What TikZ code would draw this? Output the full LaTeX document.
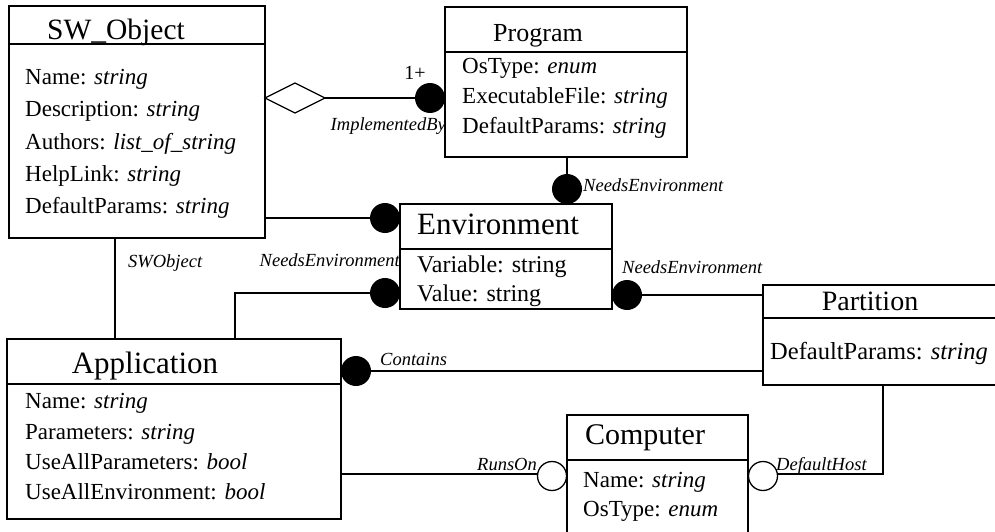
\documentclass[tikz,border=0pt]{standalone}
\usepackage{fontspec}
\setmainfont{Liberation Serif}
\usetikzlibrary{shapes.geometric}
\begin{document}
\begin{tikzpicture}[x=1pt,y=-1pt,
 umlbox/.style={draw, line width=1.4pt, rectangle, inner sep=0pt, outer sep=0pt, anchor=north west},
 ttl/.style={font=\fontsize{29}{30}\selectfont, anchor=base, inner sep=0pt},
 attr/.style={font=\fontsize{23}{24}\selectfont, anchor=base west, inner sep=0pt},
 lbl/.style={font=\fontsize{18.5}{19}\selectfont\itshape, inner sep=0pt},
 conn/.style={line width=1.2pt},
 hdr/.style={line width=1.4pt},
 fdot/.style={circle, fill=black, minimum size=30pt, inner sep=0pt, outer sep=0pt},
 odot/.style={circle, draw, fill=white, line width=1.3pt, minimum size=29pt, inner sep=0pt, outer sep=0pt},
 agg/.style={diamond, draw, line width=1.3pt, fill=white, minimum width=60pt, minimum height=30pt, inner sep=0pt, outer sep=0pt},
]
\useasboundingbox (0,0) rectangle (995,532);
\clip (0,0) rectangle (995,532);

% ---------- boxes ----------
\node[umlbox, minimum width=256pt, minimum height=232pt] (sw) at (9,6) {};
\node[umlbox, minimum width=242pt, minimum height=150pt] (prog) at (445,7) {};
\node[umlbox, minimum width=212pt, minimum height=105pt] (env) at (400,204) {};
\node[umlbox, minimum width=260pt, minimum height=100pt] (part) at (763,285) {};
\node[umlbox, minimum width=334pt, minimum height=180pt] (app) at (7,339) {};
\node[umlbox, minimum width=181pt, minimum height=140pt] (comp) at (567,415) {};

% header separators
\draw[hdr] (sw.west |- 0,44) -- (sw.east |- 0,44);
\draw[hdr] (prog.west |- 0,52) -- (prog.east |- 0,52);
\draw[hdr] (env.west |- 0,249) -- (env.east |- 0,249);
\draw[hdr] (part.west |- 0,318) -- (part.east |- 0,318);
\draw[hdr] (app.west |- 0,384) -- (app.east |- 0,384);
\draw[hdr] (comp.west |- 0,460) -- (comp.east |- 0,460);

% ---------- titles ----------
\node[ttl, font=\fontsize{29.5}{30}\selectfont] (swt) at (116,40) {SW\_Object};
\node[ttl, font=\fontsize{26}{27}\selectfont] (progt) at (538,42) {Program};
\node[ttl, font=\fontsize{31}{32}\selectfont] (envt) at (498,234) {Environment};
\node[ttl, font=\fontsize{28}{29}\selectfont] (partt) at (870,310) {Partition};
\node[ttl, font=\fontsize{31}{32}\selectfont] (appt) at (145,373) {Application};
\node[ttl, font=\fontsize{30}{31}\selectfont] (compt) at (645,444) {Computer};

% ---------- attributes ----------
\node[attr] (sw1) at (25,85)  {Name: \textit{string}};
\node[attr] (sw2) at (25,117) {Description: \textit{string}};
\node[attr] (sw3) at (25,149) {Authors: \textit{list\_of\_string}};
\node[attr] (sw4) at (25,181) {HelpLink: \textit{string}};
\node[attr] (sw5) at (25,213) {DefaultParams: \textit{string}};

\node[attr] (pr1) at (462,74)  {OsType: \textit{enum}};
\node[attr] (pr2) at (462,104) {ExecutableFile: \textit{string}};
\node[attr] (pr3) at (462,134) {DefaultParams: \textit{string}};

\node[attr, font=\fontsize{24}{25}\selectfont] (en1) at (417,272) {Variable: string};
\node[attr, font=\fontsize{24}{25}\selectfont] (en2) at (417,301) {Value: string};

\node[attr, font=\fontsize{24.5}{25}\selectfont] (pa1) at (770,359) {DefaultParams: \textit{string}};

\node[attr] (ap1) at (25,408) {Name: \textit{string}};
\node[attr] (ap2) at (25,439) {Parameters: \textit{string}};
\node[attr] (ap3) at (25,469) {UseAllParameters: \textit{bool}};
\node[attr] (ap4) at (25,499) {UseAllEnvironment: \textit{bool}};

\node[attr] (co1) at (583,487) {Name: \textit{string}};
\node[attr] (co2) at (583,516) {OsType: \textit{enum}};

% ---------- association ends ----------
\node[agg] (aggr) at (295,98) {};
\node[fdot] (impl) at (430,98) {};
\node[fdot] (pdot) at (567,189) {};
\node[fdot] (edot1) at (385,218) {};
\node[fdot] (edot2) at (385,293) {};
\node[fdot] (edot3) at (627,295) {};
\node[fdot] (cdot) at (356,371) {};
\node[odot] (runs) at (552,476) {};
\node[odot] (dhost) at (763,476) {};

\coordinate (swx) at (115,0);
\coordinate (appx) at (235,0);
\coordinate (partx) at (883,0);

% ---------- connectors ----------
\draw[conn] (aggr.east) -- (impl.west);
\draw[conn] (prog.south -| pdot) -- (pdot.north);
\draw[conn] (edot1 -| sw.east) -- (edot1.west);
\draw[conn] (edot2.west) -| (app.north -| appx);
\draw[conn] (edot3.east) -- (edot3 -| part.west);
\draw[conn] (cdot.east) -- (cdot -| part.west);
\draw[conn] (sw.south -| swx) -- (app.north -| swx);
\draw[conn] (runs.west |- 0,474) -- (app.east |- 0,474);
\draw[conn] (dhost.east |- 0,474) -| (part.south -| partx);

% ---------- labels ----------
\node[inner sep=0pt, font=\fontsize{20}{21}\selectfont] (onep) at (415,73) {1+};
\node[lbl, anchor=base east] (implbl) at (446,131) {ImplementedBy};
\node[lbl, anchor=base west] (nel1) at (583,191) {NeedsEnvironment};
\node[lbl, anchor=base east] (nel2) at (400,266) {NeedsEnvironment};
\node[lbl, anchor=base west] (nel3) at (622,273) {NeedsEnvironment};
\node[lbl, anchor=base west] (swl) at (128,267) {SWObject};
\node[lbl, anchor=base west] (conl) at (380,365) {Contains};
\node[lbl, anchor=base east] (runl) at (537,470) {RunsOn};
\node[lbl, anchor=base west] (dhl) at (776,470) {DefaultHost};
\end{tikzpicture}
\end{document}
